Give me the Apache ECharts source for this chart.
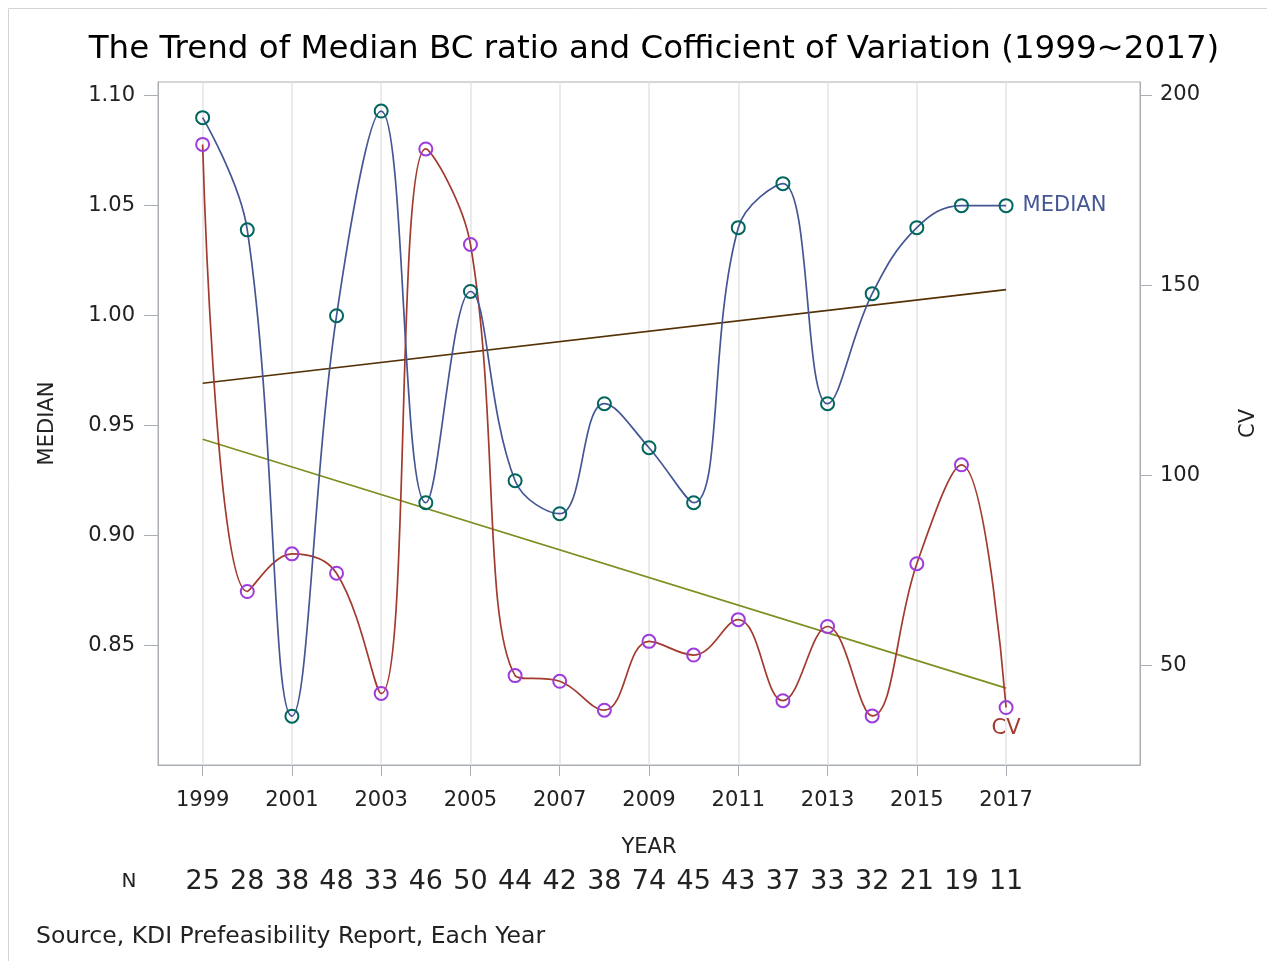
<!DOCTYPE html>
<html><head><meta charset="utf-8">
<script src="https://cdn.jsdelivr.net/npm/echarts@6/dist/echarts.min.js"></script>
<style>html,body{margin:0;padding:0;background:#fff}#c{width:1267px;height:961px}</style>
</head><body><div id="c"></div>
<script>
// ---- data ----
const years = [1999,2000,2001,2002,2003,2004,2005,2006,2007,2008,2009,2010,2011,2012,2013,2014,2015,2016,2017];
const median = [1.090,1.039,0.818,1.000,1.093,0.915,1.011,0.925,0.910,0.960,0.940,0.915,1.040,1.060,0.960,1.010,1.040,1.050,1.050];
const cv = [187.0,69.5,79.4,74.3,42.7,185.8,160.7,47.4,45.9,38.3,56.4,52.8,62.1,40.8,60.3,36.8,76.8,102.8,39.0];
const nCounts = [25,28,38,48,33,46,50,44,42,38,74,45,43,37,33,32,21,19,11];
const xTickYears = [1999,2001,2003,2005,2007,2009,2011,2013,2015,2017];
const medianTicks = [0.85,0.90,0.95,1.00,1.05,1.10];
const cvTicks = [50,100,150,200];
const trendYears = [1999,2017];
const medianTrend = [0.9693,1.0118];
const cvTrend = [109.5,44.1];

const FONT = 'DejaVu Sans';
const AXIS_COLOR = '#a9aeb4';
const last = years.length - 1;

function pairs(xs, ys, labelCfg) {
  return ys.map((v, i) => {
    if (labelCfg && i === last) return { value: [xs[i], v], label: labelCfg };
    return [xs[i], v];
  });
}

const chart = echarts.init(document.getElementById('c'), null, { renderer: 'canvas' });
chart.setOption({
  animation: false,
  backgroundColor: '#fff',
  title: {
    text: 'The Trend of Median BC ratio and Cofficient of Variation (1999~2017)',
    left: 649, top: 28, textAlign: 'center',
    textStyle: { fontFamily: FONT, fontSize: 32.5, fontWeight: 'normal', color: '#000' }
  },
  graphic: [
    { type: 'rect', shape: { x: 8.5, y: 8.5, width: 1400, height: 1100 }, style: { fill: 'none', stroke: '#d4d4d4', lineWidth: 1 }, silent: true },
    { type: 'text', x: 129, y: 882, style: { text: 'N', fontFamily: FONT, fontSize: 20, fill: '#222', textAlign: 'center', textVerticalAlign: 'middle' } },
    { type: 'text', x: 36, y: 937, style: { text: 'Source, KDI Prefeasibility Report, Each Year', fontFamily: FONT, fontSize: 23.5, fill: '#222', textAlign: 'left', textVerticalAlign: 'middle' } }
  ],
  grid: { left: 158, right: 127, top: 82, bottom: 196, show: true, borderColor: AXIS_COLOR, borderWidth: 1, backgroundColor: 'transparent' },
  xAxis: [
    {
      type: 'value', min: 1998, max: 2020, position: 'bottom',
      axisLine: { show: true, lineStyle: { color: AXIS_COLOR } },
      axisTick: { show: true, customValues: xTickYears, length: 11, lineStyle: { color: AXIS_COLOR } },
      axisLabel: { customValues: xTickYears, fontFamily: FONT, fontSize: 21, color: '#222', margin: 25, formatter: v => String(v) },
      splitLine: { show: true, lineStyle: { color: '#e4e4e4', width: 1.5 } },
      name: 'YEAR', nameLocation: 'middle', nameGap: 72,
      nameTextStyle: { fontFamily: FONT, fontSize: 21, color: '#222' }
    },
    {
      type: 'value', min: 1998, max: 2020, position: 'bottom', offset: 95,
      axisLine: { show: false }, axisTick: { show: false }, splitLine: { show: false },
      axisLabel: { customValues: years, fontFamily: FONT, fontSize: 27, color: '#222', margin: 8,
        formatter: v => { const i = years.indexOf(Math.round(v)); return i >= 0 ? String(nCounts[i]) : ''; } }
    }
  ],
  yAxis: [
    {
      type: 'value', min: 0.7958, max: 1.1062, position: 'left',
      axisLine: { show: true, lineStyle: { color: AXIS_COLOR } },
      axisTick: { show: true, customValues: medianTicks, length: 14, lineStyle: { color: AXIS_COLOR } },
      axisLabel: { customValues: medianTicks, fontFamily: FONT, fontSize: 21, color: '#222', margin: 23, formatter: v => v.toFixed(2) },
      splitLine: { show: false },
      name: 'MEDIAN', nameLocation: 'middle', nameRotate: 90, nameGap: 100,
      nameTextStyle: { fontFamily: FONT, fontSize: 21, color: '#222' }
    },
    {
      type: 'value', min: 23.9, max: 203.4, position: 'right',
      axisLine: { show: true, lineStyle: { color: AXIS_COLOR } },
      axisTick: { show: true, customValues: cvTicks, length: 12, lineStyle: { color: AXIS_COLOR } },
      axisLabel: { customValues: cvTicks, fontFamily: FONT, fontSize: 21, color: '#222', margin: 20, formatter: v => String(Math.round(v)) },
      splitLine: { show: false },
      name: 'CV', nameLocation: 'middle', nameRotate: 90, nameGap: 98,
      nameTextStyle: { fontFamily: FONT, fontSize: 21, color: '#222' }
    }
  ],
  series: [
    {
      name: 'MedianTrend', type: 'line', xAxisIndex: 0, yAxisIndex: 0,
      data: pairs(trendYears, medianTrend), symbol: 'none', silent: true,
      lineStyle: { color: '#543005', width: 1.7 }
    },
    {
      name: 'CVTrend', type: 'line', xAxisIndex: 0, yAxisIndex: 1,
      data: pairs(trendYears, cvTrend), symbol: 'none', silent: true,
      lineStyle: { color: '#7F8E1F', width: 1.7 }
    },
    {
      name: 'CV', type: 'line', xAxisIndex: 0, yAxisIndex: 1, smooth: 0.4,
      data: pairs(years, cv, { show: true, position: 'bottom', distance: 3, formatter: 'CV', fontFamily: FONT, fontSize: 21, color: '#A23A2E' }),
      symbol: 'circle', symbolSize: 13, showSymbol: true,
      itemStyle: { color: 'rgba(255,255,255,0)', borderColor: '#9D3CDB', borderWidth: 2 },
      lineStyle: { color: '#A23A2E', width: 1.7 }, emphasis: { disabled: true }
    },
    {
      name: 'MEDIAN', type: 'line', xAxisIndex: 0, yAxisIndex: 0, smooth: 0.4,
      data: pairs(years, median, { show: true, position: 'right', distance: 9, formatter: 'MEDIAN', fontFamily: FONT, fontSize: 21, color: '#445694' }),
      symbol: 'circle', symbolSize: 13, showSymbol: true,
      itemStyle: { color: 'rgba(255,255,255,0)', borderColor: '#01665E', borderWidth: 2 },
      lineStyle: { color: '#445694', width: 1.7 }, emphasis: { disabled: true }
    }
  ]
});
</script>
</body></html>
